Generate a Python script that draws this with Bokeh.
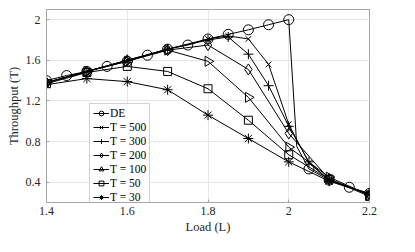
import numpy as np
from bokeh.plotting import figure
from bokeh.models import Legend, LegendItem, FixedTicker, Range1d
from bokeh.embed import file_html
from bokeh.resources import INLINE

# ---- data ----
de_x = [1.4, 1.45, 1.5, 1.55, 1.6, 1.65, 1.7, 1.75, 1.8, 1.85, 1.9, 1.95, 2.0, 2.02, 2.05, 2.1, 2.15, 2.2]
de_y = [1.40, 1.45, 1.49, 1.54, 1.59, 1.65, 1.71, 1.75, 1.81, 1.855, 1.90, 1.95, 2.00, 0.75, 0.53, 0.42, 0.35, 0.29]
de_marker_idx = [0, 1, 2, 3, 4, 5, 6, 7, 8, 9, 10, 11, 12, 14, 15, 16, 17]

t500_x = [1.4, 1.5, 1.6, 1.7, 1.8, 1.85, 1.9, 1.95, 2.0, 2.05, 2.1, 2.2]
t500_y = [1.38, 1.49, 1.60, 1.71, 1.81, 1.84, 1.81, 1.56, 0.97, 0.59, 0.42, 0.28]

t300_x = [1.4, 1.5, 1.6, 1.7, 1.8, 1.85, 1.9, 1.95, 2.0, 2.05, 2.1, 2.2]
t300_y = [1.38, 1.49, 1.60, 1.71, 1.80, 1.83, 1.66, 1.35, 0.95, 0.60, 0.42, 0.28]

t_x = [1.4, 1.5, 1.6, 1.7, 1.8, 1.9, 2.0, 2.1, 2.2]
t200_y = [1.38, 1.49, 1.60, 1.70, 1.75, 1.51, 0.88, 0.43, 0.28]
t100_y = [1.38, 1.49, 1.59, 1.70, 1.59, 1.235, 0.745, 0.45, 0.27]
t50_y = [1.37, 1.48, 1.54, 1.49, 1.32, 1.01, 0.67, 0.43, 0.26]
t30_y = [1.36, 1.42, 1.39, 1.31, 1.06, 0.83, 0.60, 0.41, 0.28]

labels = ["DE", "T = 500", "T = 300", "T = 200", "T = 100", "T = 50", "T = 30"]

x_ticks = [1.4, 1.6, 1.8, 2.0, 2.2]
x_tick_labels = ["1.4", "1.6", "1.8", "2", "2.2"]
y_ticks = [0.4, 0.8, 1.2, 1.6, 2.0]
y_tick_labels = ["0.4", "0.8", "1.2", "1.6", "2"]

FONT = "Liberation Serif"
TXT = "#262626"

p = figure(width=399, height=236, output_backend="svg", toolbar_location=None,
           x_range=Range1d(1.4, 2.2), y_range=Range1d(0.2, 2.1),
           min_border_left=46, min_border_right=30, min_border_top=9, min_border_bottom=27)

p.background_fill_color = "white"
p.outline_line_color = "#a6a6a6"
p.outline_line_width = 1

for ax in (p.xaxis[0], p.yaxis[0]):
    ax.axis_line_color = "#a6a6a6"
    ax.major_tick_line_color = "#a6a6a6"
    ax.major_tick_in = 3
    ax.major_tick_out = 0
    ax.minor_tick_line_color = None
    ax.major_label_text_font = FONT
    ax.major_label_text_font_size = "12px"
    ax.major_label_text_color = TXT
    ax.axis_label_text_font = FONT
    ax.axis_label_text_font_size = "12.5px"
    ax.axis_label_text_font_style = "normal"
    ax.axis_label_text_color = TXT

p.xaxis.ticker = FixedTicker(ticks=x_ticks)
p.yaxis.ticker = FixedTicker(ticks=y_ticks)
p.xaxis.major_label_overrides = {t: l for t, l in zip(x_ticks, x_tick_labels)}
p.yaxis.major_label_overrides = {t: l for t, l in zip(y_ticks, y_tick_labels)}
p.xaxis.major_label_standoff = 4
p.yaxis.major_label_standoff = 6
p.xaxis.axis_label = "Load (L)"
p.yaxis.axis_label = "Throughput (T)"
p.xaxis.axis_label_standoff = 2
p.yaxis.axis_label_standoff = 2

p.xgrid.ticker = FixedTicker(ticks=x_ticks)
p.ygrid.ticker = FixedTicker(ticks=y_ticks)
p.grid.grid_line_color = "#e6e6e6"
p.grid.grid_line_width = 1

items = []

def series(xs, ys, marker, size, label, angle=0.0, mx=None, my=None):
    ln = p.line(xs, ys, line_color="black", line_width=1)
    sx = xs if mx is None else mx
    sy = ys if my is None else my
    sc = p.scatter(sx, sy, marker=marker, size=size, angle=angle,
                   line_color="black", line_width=1, fill_color="white", fill_alpha=0)
    items.append(LegendItem(label=label, renderers=[ln, sc]))

series(de_x, de_y, "circle", 10, labels[0],
       mx=[de_x[i] for i in de_marker_idx], my=[de_y[i] for i in de_marker_idx])
series(t500_x, t500_y, "x", 8, labels[1])
series(t300_x, t300_y, "cross", 10, labels[2])
series(t_x, t200_y, "diamond", 11, labels[3])
series(t_x, t100_y, "triangle", 10, labels[4], angle=-np.pi / 2)
series(t_x, t50_y, "square", 8, labels[5])
series(t_x, t30_y, "asterisk", 10, labels[6])

legend = Legend(items=items, location=(43, -5))
legend.label_text_font = FONT
legend.label_text_font_size = "11.5px"
legend.label_text_color = "black"
legend.glyph_width = 16
legend.glyph_height = 12
legend.label_height = 12
legend.label_standoff = 1
legend.spacing = 2
legend.padding = 3
legend.margin = 0
legend.border_line_color = "#a6a6a6"
legend.border_line_width = 1
legend.background_fill_color = "white"
legend.background_fill_alpha = 1
p.add_layout(legend, "center")

open("out.html", "w").write(file_html(p, INLINE))
